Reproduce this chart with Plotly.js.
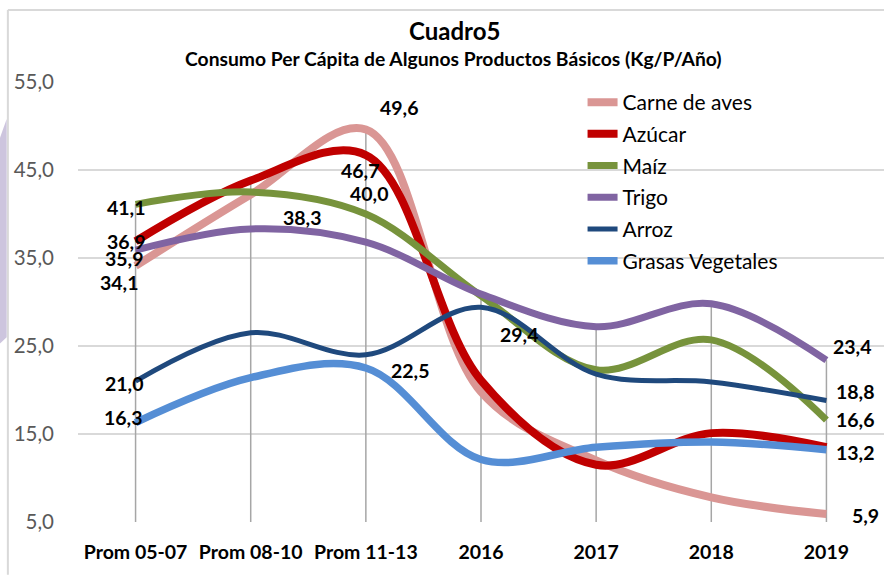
<!DOCTYPE html>
<html><head><meta charset="utf-8">
<script src="https://cdn.plot.ly/plotly-3.0.1.min.js"></script>
<style>html,body{margin:0;padding:0;background:#fff}#chart{width:884px;height:575px}</style>
</head><body><div id="chart"></div>
<script>
const categories = ['Prom 05-07','Prom 08-10','Prom 11-13','2016','2017','2018','2019'];
const seriesNames = ['Carne de aves','Azúcar','Maíz','Trigo','Arroz','Grasas Vegetales'];
const carneDeAves = [34.1, 42.2, 49.6, 19.8, 12.0, 7.8, 5.9];
const azucar = [36.9, 43.8, 46.7, 21.1, 11.5, 15.1, 13.5];
const maiz = [41.1, 42.5, 40.0, 30.7, 22.3, 25.7, 16.6];
const trigo = [35.9, 38.3, 36.8, 30.9, 27.2, 29.8, 23.4];
const arroz = [21.0, 26.5, 24.0, 29.4, 21.8, 20.9, 18.8];
const grasasVegetales = [16.3, 21.4, 22.5, 12.1, 13.5, 14.1, 13.2];
const yTicks = [5, 15, 25, 35, 45, 55];

const seriesValues = [carneDeAves, azucar, maiz, trigo, arroz, grasasVegetales];
const colors = ['#DA9694', '#C00000', '#77933C', '#8064A2', '#1F497D', '#558ED5'];
const widths = [8, 8, 7, 7, 5, 7.5];
const FONT = 'Lato, "Open Sans", sans-serif';

const xIdx = categories.map((c, i) => i);

// drop lines from the highest point at each category to the axis
const dropX = [], dropY = [];
xIdx.forEach(i => {
  const top = Math.max(...seriesValues.map(s => s[i]));
  dropX.push(i, i, null);
  dropY.push(yTicks[0], top, null);
});

const traces = [{
  x: dropX, y: dropY, mode: 'lines', type: 'scatter',
  line: {color: '#A6A6A6', width: 1.5}, showlegend: false, hoverinfo: 'skip'
}];
seriesValues.forEach((vals, k) => {
  traces.push({
    x: xIdx, y: vals, type: 'scatter', mode: 'lines', name: seriesNames[k],
    legendgroup: 'g' + k,
    line: {color: colors[k], width: widths[k], shape: 'spline', smoothing: 1}
  });
});

// data labels: [series index, category index, xshift, yshift, xanchor]
const labelSpecs = [
  [2, 0, -9, -3, 'center'], [1, 0, -9, 0, 'center'], [3, 0, -11, -8, 'center'],
  [0, 0, -16, -17, 'center'], [4, 0, -11, -2, 'center'], [5, 0, -12, 5, 'center'],
  [3, 1, 52, 11, 'center'], [0, 2, 34, 22, 'center'], [1, 2, -5, -15, 'center'],
  [2, 2, 4, 21, 'center'], [5, 2, 45, -2, 'center'], [4, 3, 38, -27, 'center'],
  [3, 6, 5, 14, 'left'], [4, 6, 8, 9, 'left'], [2, 6, 8, 0, 'left'],
  [5, 6, 8, -3, 'left'], [0, 6, 24, -1, 'left']
];
const fmt = v => v.toFixed(1).replace('.', ',');
const annotations = labelSpecs.map(([s, c, dx, dy, xa]) => ({
  x: c, y: seriesValues[s][c], xref: 'x', yref: 'y', text: fmt(seriesValues[s][c]),
  showarrow: false, xshift: dx, yshift: dy, xanchor: xa, yanchor: 'middle',
  font: {family: FONT, size: 19.5, color: '#000', weight: 'bold'}
}));
annotations.push({
  xref: 'paper', yref: 'paper', x: 0.4677, y: 1.118, text: '<b>Cuadro5</b>', showarrow: false,
  xanchor: 'center', yanchor: 'middle', font: {family: FONT, size: 24, color: '#000'}
});
annotations.push({
  xref: 'paper', yref: 'paper', x: 0.4665, y: 1.0545,
  text: '<b>Consumo Per Cápita de Algunos Productos Básicos (Kg/P/Año)</b>', showarrow: false,
  xanchor: 'center', yanchor: 'middle', font: {family: FONT, size: 19.3, color: '#000'}
});

const layout = {
  width: 884, height: 575,
  margin: {l: 78, r: 0, t: 82, b: 53},
  paper_bgcolor: '#fff', plot_bgcolor: 'rgba(0,0,0,0)',
  separators: ',.',
  showlegend: true,
  legend: {
    x: 0.626, y: 1.0, xanchor: 'left', yanchor: 'top', bgcolor: 'rgba(0,0,0,0)',
    font: {family: FONT, size: 21, color: '#000'}, tracegroupgap: 1.4, traceorder: 'grouped'
  },
  xaxis: {
    range: [-0.5, 6.5], tickmode: 'array', tickvals: xIdx, ticktext: categories,
    showgrid: false, zeroline: false, showline: false, ticks: '',
    tickfont: {family: FONT, size: 19.5, color: '#000', weight: 'bold'}, ticklabelstandoff: 16
  },
  yaxis: {
    range: [5, 55], tickmode: 'array', tickvals: yTicks, tickformat: '.1f',
    showgrid: true, gridcolor: '#D9D9D9', gridwidth: 1.5, zeroline: false, showline: false,
    ticks: '', tickfont: {family: FONT, size: 20.5, color: '#595959'}, ticklabelstandoff: 23
  },
  shapes: [
    {type: 'line', xref: 'paper', yref: 'paper', x0: -0.087, x1: 1.01, y0: 1.1636, y1: 1.1636,
     line: {color: '#D9D9D9', width: 2}},
    {type: 'line', xref: 'paper', yref: 'paper', x0: -0.087, x1: -0.087, y0: 1.1636, y1: -0.12,
     line: {color: '#D9D9D9', width: 2}},
    {type: 'path', xref: 'paper', yref: 'paper', fillcolor: '#CDC5DE', line: {width: 0},
     path: 'M -0.1 0.857 L -0.0885 0.916 L -0.0885 0.42 L -0.1 0.40 Z'}
  ],
  annotations: annotations
};

Plotly.newPlot('chart', traces, layout, {displayModeBar: false, staticPlot: true});
</script>
</body></html>
